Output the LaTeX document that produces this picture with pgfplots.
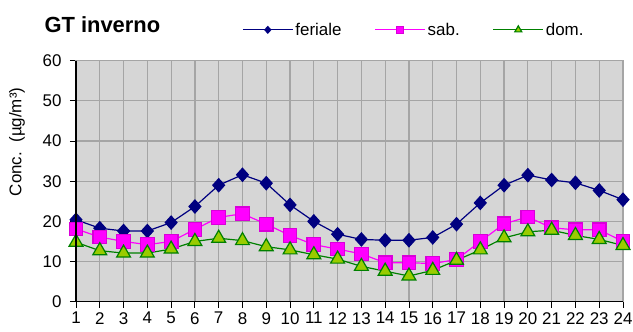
\documentclass[border=0pt]{standalone}
\usepackage{pgfplots}
\pgfplotsset{compat=1.18}
\usepackage{fontspec}
\setmainfont{Liberation Sans}

\definecolor{feriale}{RGB}{0,0,128}
\definecolor{sab}{RGB}{255,0,255}
\definecolor{domline}{RGB}{0,128,0}
\definecolor{domfill}{RGB}{153,204,0}
\definecolor{plotbg}{RGB}{214,214,214}
\definecolor{gridc}{RGB}{165,165,165}

\begin{document}
\begin{tikzpicture}
\begin{axis}[
    name=ax,
    scale only axis,
    width=547bp, height=241bp,
    xmin=1, xmax=24,
    ymin=0, ymax=60,
    xtick={1,...,24},
    ytick={0,10,...,60},
    xtick pos=left, ytick pos=left,
    tick align=outside,
    major tick length=6bp,
    tick style={black, line width=0.9bp},
    axis line style={gridc, line width=1.2bp},
    grid=major,
    grid style={gridc, line width=1.2bp},
    axis background/.style={fill=plotbg},
    /pgf/number format/assume math mode=true,
    tick label style={font=\fontsize{17}{19}\selectfont},
    yticklabel style={xshift=-5bp},
    xticklabel style={yshift=-1bp},
    ylabel={Conc.\ \ (µg/m³)},
    ylabel style={at={(axis description cs:-0.108,0.663)}, anchor=center, font=\fontsize{17}{19}\selectfont},
    title={\textbf{GT inverno}},
    title style={at={(axis description cs:-0.064,1.125)}, anchor=west, font=\fontsize{22}{24}\selectfont},
    legend style={at={(axis description cs:0.298,1.128)}, anchor=west, draw=none, fill=none,
        font=\fontsize{17}{19}\selectfont, legend columns=3,
        /tikz/every even column/.append style={column sep=31bp}},
    legend image code/.code={\draw[mark repeat=2, mark phase=2, every mark/.append style={scale=0.5}]
        plot coordinates {(0bp,0bp) (25bp,0bp) (50bp,0bp)};},
]
\addplot[feriale, line width=1.2bp, mark=diamond*, mark size=6.5bp, mark options={fill=feriale, draw=feriale, xscale=1.2}]
    table {
    1 20.4
    2 18.3
    3 17.6
    4 17.6
    5 19.7
    6 23.7
    7 29.0
    8 31.6
    9 29.5
    10 24.1
    11 20.0
    12 16.8
    13 15.5
    14 15.3
    15 15.3
    16 16.0
    17 19.3
    18 24.6
    19 29.0
    20 31.5
    21 30.3
    22 29.6
    23 27.7
    24 25.4
    };
\addplot[sab, line width=1.2bp, mark=square*, mark size=6.8bp, mark options={fill=sab, draw=sab!85!black}]
    table {
    1 18.1
    2 16.1
    3 15.0
    4 14.2
    5 15.0
    6 18.0
    7 21.0
    8 21.9
    9 19.3
    10 16.5
    11 14.2
    12 13.1
    13 11.9
    14 9.7
    15 9.7
    16 9.5
    17 10.5
    18 15.0
    19 19.4
    20 21.1
    21 18.4
    22 17.9
    23 17.9
    24 15.0
    };
\addplot[domline, line width=1.2bp, mark=triangle*, mark size=8bp, mark options={fill=domfill, draw=domline}]
    table {
    1 14.8
    2 12.7
    3 12.1
    4 12.1
    5 13.1
    6 15.0
    7 15.8
    8 15.2
    9 13.7
    10 12.9
    11 11.7
    12 10.6
    13 8.8
    14 7.6
    15 6.4
    16 7.8
    17 10.3
    18 12.9
    19 15.9
    20 17.4
    21 17.8
    22 16.5
    23 15.5
    24 14.0
    };
\legend{feriale, sab., dom.}
\end{axis}
\draw[black, line width=1.2bp] (ax.north west) -- (ax.south west) -- (ax.south east);
\pgfresetboundingbox
\path ([xshift=-76bp, yshift=-30.3bp]ax.south west) rectangle ([xshift=10bp, yshift=60.7bp]ax.north east);
\end{tikzpicture}
\end{document}
